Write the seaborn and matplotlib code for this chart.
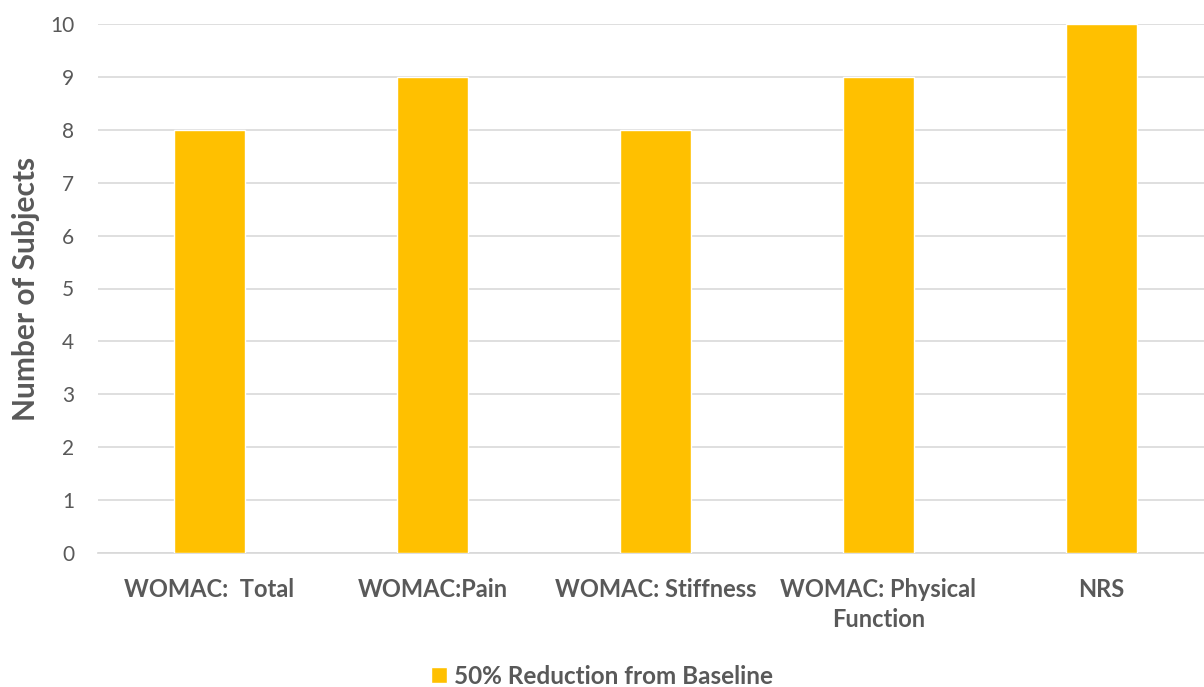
import matplotlib
matplotlib.use("Agg")
import matplotlib.pyplot as plt
import seaborn as sns
import pandas as pd

categories = ["WOMAC:  Total", "WOMAC:Pain", "WOMAC: Stiffness", "WOMAC: Physical\nFunction", "NRS"]
values = [8, 9, 8, 9, 10]
series_name = "50% Reduction from Baseline"
y_ticks = list(range(0, 11))

sns.set_theme(style="white")
plt.rcParams['font.family'] = ['Lato', 'DejaVu Sans']

df = pd.DataFrame({"cat": categories, "val": values, "series": series_name})

fig = plt.figure(figsize=(12.04, 6.87), dpi=100)
ax = fig.add_axes([98/1204, 1-553/687, 1115/1204, (553-24)/687])
sns.barplot(data=df, x="cat", y="val", hue="series", palette=["#FFC000"],
            width=0.314, ax=ax, legend=True, zorder=3, saturation=1)

ax.set_ylim(0, 10)
ax.set_xlim(-0.5, 4.5)
ax.set_yticks(y_ticks)
ax.grid(axis="y", color="#d9d9d9", linewidth=1.2, zorder=0)
ax.set_axisbelow(True)
for s in ["top", "right", "left"]:
    ax.spines[s].set_visible(False)
ax.spines["bottom"].set_color("#d9d9d9")
ax.tick_params(axis="y", colors="#595959", labelsize=15, length=0, pad=17)
ax.tick_params(axis="x", colors="#595959", labelsize=17, length=0, pad=18)
for lbl in ax.get_xticklabels():
    lbl.set_fontweight("bold")
    lbl.set_linespacing(1.35)
ax.set_xlabel("")
ax.set_ylabel("Number of Subjects", fontsize=21.5, fontweight="bold", color="#595959")
ax.yaxis.set_label_coords(-(98-40)/1115, 0.5)

leg = ax.legend(loc="center", bbox_to_anchor=((602-98)/1115, (553-676)/529), frameon=False,
                fontsize=17.5, handlelength=0.65, handleheight=0.65, handletextpad=0.3)
for t in leg.get_texts():
    t.set_fontweight("bold")
    t.set_color("#595959")

fig.savefig("out.png", dpi=100)
